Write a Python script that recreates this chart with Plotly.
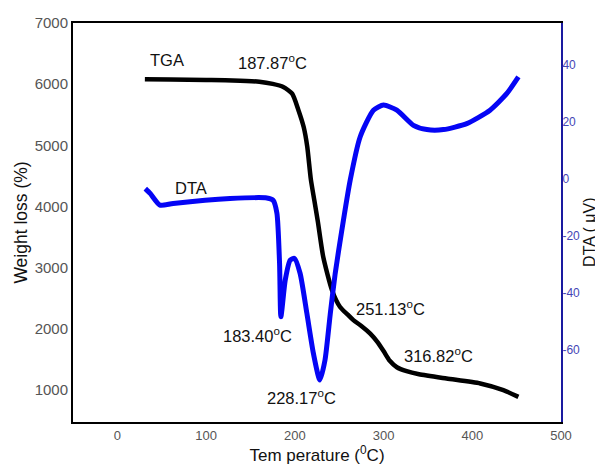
import plotly.graph_objects as go

# TGA curve (temperature in °C, weight)
tga_temp = [31, 60, 100, 130, 160, 175, 187, 197, 204, 210, 214, 218, 222, 226, 232,
            242, 251, 260, 266, 275, 285, 293, 300, 307, 315, 326, 340, 371, 409, 435, 452]
tga_val = [6080, 6075, 6068, 6062, 6040, 6005, 5955, 5845, 5580, 5300, 4980, 4450, 4100,
           3750, 3180, 2630, 2360, 2230, 2145, 2050, 1925, 1790, 1640, 1480, 1375, 1310,
           1260, 1190, 1110, 1000, 890]

# DTA curve (temperature in °C, µV)
dta_temp = [31.5, 37, 48, 63, 127, 168.5, 175.5, 179.8, 182.8, 184.3, 189.2, 194.8, 199.7,
            206, 213.6, 221, 228.2, 234, 240, 245.5, 253, 262.4, 273.6, 288.6, 300, 315,
            333.7, 348.8, 367.5, 393.8, 420, 439, 452]
dta_val = [-3.3, -5.0, -9.1, -8.5, -6.8, -6.6, -7.4, -11.9, -29.5, -48.3, -35.4, -28.4, -27.8,
           -33.1, -47.1, -61.2, -70.5, -63.5, -47.1, -33.1, -17.9, -0.4, 14.8, 24.2, 26.0,
           24.2, 18.9, 17.4, 17.4, 19.5, 24.2, 30.1, 35.9]

# Annotation labels
label_text = ["TGA", "187.87<sup>o</sup>C", "DTA", "183.40<sup>o</sup>C",
              "228.17<sup>o</sup>C", "251.13<sup>o</sup>C", "316.82<sup>o</sup>C"]
label_x = [56, 174.5, 83, 157.5, 208, 308, 362]
label_y = [6390, 6360, 4300, 1900, 890, 2340, 1575]

x_ticks = [0, 100, 200, 300, 400, 500]
y_ticks = [1000, 2000, 3000, 4000, 5000, 6000, 7000]
y2_ticks = [-60, -40, -20, 0, 20, 40]
y2_ticktext = ["-60", "-40", "-20", "0", "20", "40"]

FONT = "Liberation Sans, Arial, sans-serif"

fig = go.Figure()
fig.add_trace(go.Scatter(x=tga_temp, y=tga_val, mode="lines",
                         line=dict(color="#000000", width=4.5, shape="spline", smoothing=0.6),
                         showlegend=False))
fig.add_trace(go.Scatter(x=dta_temp, y=dta_val, mode="lines", yaxis="y2",
                         line=dict(color="#0505f5", width=5, shape="spline", smoothing=0.6),
                         showlegend=False))

for t, xv, yv in zip(label_text, label_x, label_y):
    fig.add_annotation(x=xv, y=yv, xref="x", yref="y", text=t, showarrow=False,
                       xanchor="center", yanchor="middle",
                       font=dict(family=FONT, size=16.5, color="#111111"))

# right axis title
fig.add_annotation(x=1.057, y=0.476, xref="paper", yref="paper", text="DTA ( μV)",
                   showarrow=False, textangle=-90, xanchor="center", yanchor="middle",
                   font=dict(family=FONT, size=16, color="#111111"))

# page body has an 8px margin, so the figure is sized to fit the 603x468 window
fig.update_layout(
    width=595, height=460,
    margin=dict(l=65, r=42, t=15, b=46, autoexpand=False),
    paper_bgcolor="white", plot_bgcolor="white",
    font=dict(family=FONT),
    xaxis=dict(range=[-50, 500], tickvals=x_ticks, showgrid=False, zeroline=False,
               showline=True, linecolor="#000000", linewidth=2, mirror=True,
               ticks="", tickfont=dict(size=13, color="#555555"),
               title=dict(text="Tem perature (<sup>0</sup>C)", standoff=6,
                          font=dict(size=17, color="#111111"))),
    yaxis=dict(range=[480, 7000], tickvals=y_ticks, showgrid=False, zeroline=False,
               showline=True, linecolor="#000000", linewidth=2,
               ticks="", tickfont=dict(size=15, color="#555555"),
               title=dict(text="Weight loss (%)", standoff=3,
                          font=dict(size=17.5, color="#111111"))),
    yaxis2=dict(range=[-85.2, 54.8], tickvals=y2_ticks, ticktext=y2_ticktext,
                overlaying="y", side="right", ticklabelstandoff=-3,
                showgrid=False, zeroline=False, showline=True, linecolor="#1a1aa0",
                linewidth=2, ticks="", tickfont=dict(size=12, color="#4545b5")),
)

fig.write_html("out.html")
